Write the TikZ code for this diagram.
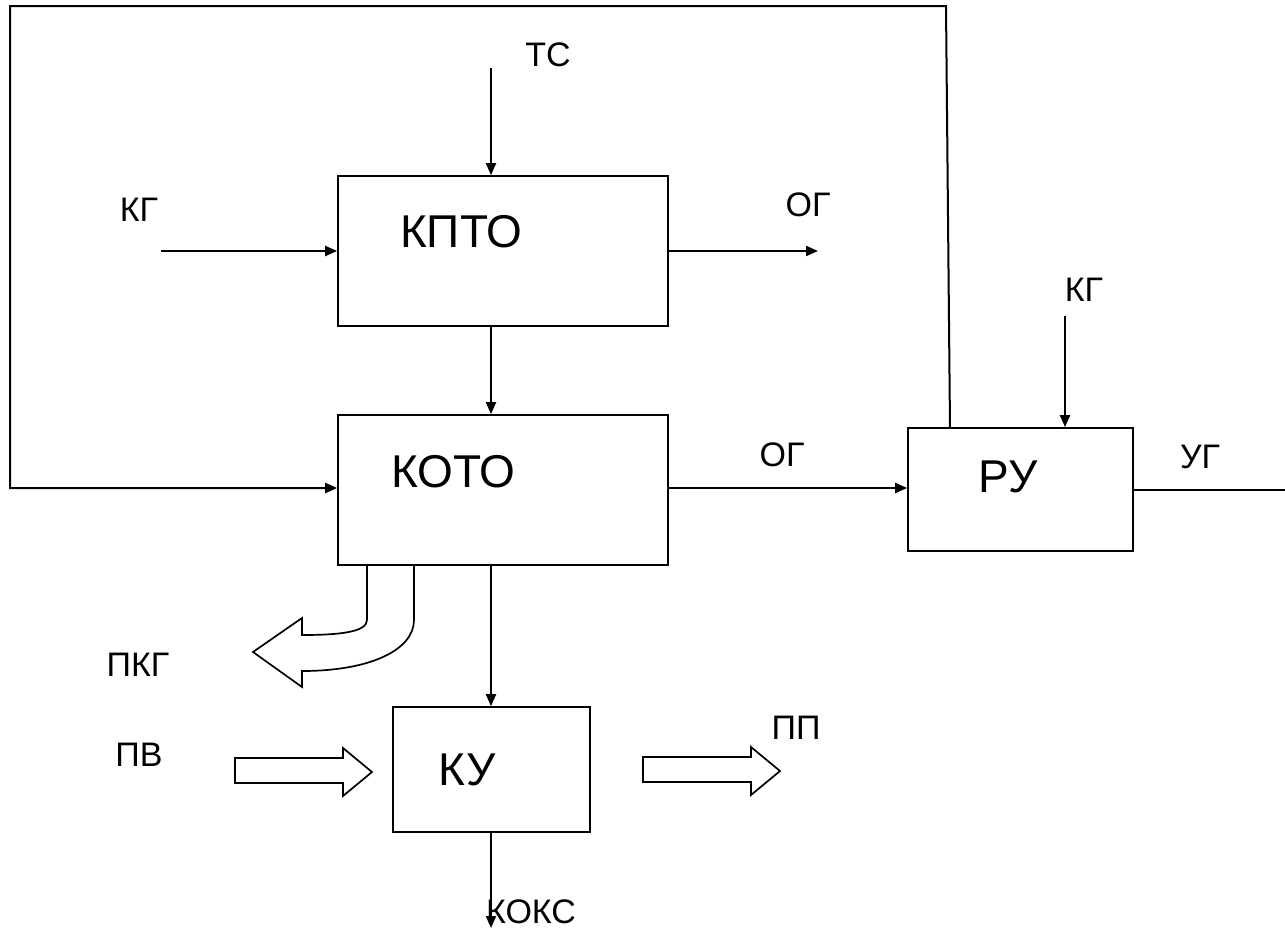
\documentclass[tikz,border=0pt]{standalone}
\usepackage{fontspec}
\setmainfont{Liberation Sans}
\usetikzlibrary{arrows.meta}
\begin{document}
\begin{tikzpicture}[x=1pt,y=-1pt,
  line width=2pt,
  blk/.style={draw,line width=1.7pt,inner sep=0pt},
  big/.style={font=\fontsize{46}{50}\selectfont,inner sep=0pt},
  lab/.style={font=\fontsize{34}{38}\selectfont,inner sep=0pt},
  arr/.style={-{Triangle[length=12pt,width=10pt]}},
  hollow/.style={draw,line width=1.7pt,line join=miter}]
\useasboundingbox (0,0) rectangle (1285,938);
% hollow curved arrow (drawn first, under the box)
\draw[hollow,fill=white] (367,565) -- (367,620) .. controls (367,632) and (340,635) .. (302,635)
  -- (302,618) -- (253,652) -- (302,687) -- (302,671)
  .. controls (370,671) and (414,650) .. (414,620) -- (414,565);
% boxes
\node[blk,minimum width=330pt,minimum height=150pt] (kpto) at (503,251) {};
\node[blk,minimum width=330pt,minimum height=150pt] (koto) at (503,490) {};
\node[blk,minimum width=225pt,minimum height=123pt] (ru) at (1020.5,489.5) {};
\node[blk,minimum width=197pt,minimum height=125pt] (ku) at (491.5,769.5) {};
% box texts
\node[big] (tkpto) at (461,232) {КПТО};
\node[big] (tkoto) at (453,472) {КОТО};
\node[big] (tru) at (1008,477) {РУ};
\node[big] (tku) at (467,770) {КУ};
% labels
\node[lab] (ltc) at (548,55) {ТС};
\node[lab] (lkg1) at (139,210) {КГ};
\node[lab] (log1) at (808,205) {ОГ};
\node[lab] (lkg2) at (1084,290) {КГ};
\node[lab] (log2) at (782,455) {ОГ};
\node[lab] (lug) at (1200,457) {УГ};
\node[lab] (lpkg) at (138,665) {ПКГ};
\node[lab] (lpv) at (139,755) {ПВ};
\node[lab] (lpp) at (796,728) {ПП};
\node[lab] (lkoks) at (531,912) {КОКС};
% coordinates
\coordinate (tc) at (491,68);
\coordinate (kg1) at (161,251);
\coordinate (og1) at (818,251);
\coordinate (kg2) at (1065,316);
\coordinate (ug) at (1285,490);
\coordinate (koks) at (491,928);
\coordinate (fb) at (950,428);
% connectors
\draw[arr] (tc) -- (tc |- kpto.north);
\draw[arr] (kg1) -- (kg1 -| kpto.west);
\draw[arr] (kpto.east) -- (og1);
\draw[arr] (tc |- kpto.south) -- (tc |- koto.north);
\draw[arr] (koto.east |- 0,488) -- (ru.west |- 0,488);
\draw[arr] (kg2) -- (kg2 |- ru.north);
\draw (ru.east |- ug) -- (ug);
\draw[arr] (tc |- koto.south) -- (tc |- ku.north);
\draw[arr] (tc |- ku.south) -- (koks);
\draw[arr] (fb) -- (946,6) -- (10,6) -- (10,488) -- (koto.west |- 0,488);
% straight hollow arrows
\draw[hollow] (235,758) -- (343,758) -- (343,748) -- (372,772) -- (343,796) -- (343,783) -- (235,783) -- cycle;
\draw[hollow] (643,757) -- (751,757) -- (751,747) -- (780,771) -- (751,795) -- (751,782) -- (643,782) -- cycle;
\end{tikzpicture}
\end{document}
